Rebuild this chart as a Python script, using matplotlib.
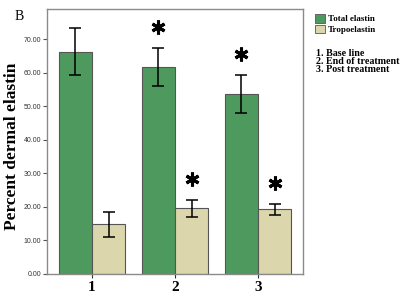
import numpy as np
import matplotlib
matplotlib.use("Agg")
import matplotlib.pyplot as plt
from matplotlib.patches import Patch

# data
groups = ["1", "2", "3"]
total_mean = [66.3, 61.7, 53.6]
total_hi = [73.3, 67.4, 59.3]
total_lo = [59.3, 56.0, 48.0]
tropo_mean = [14.8, 19.6, 19.4]
tropo_hi = [18.5, 22.2, 21.0]
tropo_lo = [11.0, 17.0, 17.7]
total_sig = [False, True, True]
tropo_sig = [False, True, True]
notes = ["1. Base line", "2. End of treatment", "3. Post treatment"]

green = "#4e9a5e"
tan = "#dcd6ac"
serif = "Liberation Serif"

fig = plt.figure(figsize=(4.15, 3.03), dpi=100)
ax = fig.add_axes([47 / 415, 29 / 303, 256 / 415, 265 / 303])

x = np.arange(1, len(groups) + 1)
w = 0.4

def draw(xs, mean, hi, lo, color, sig):
    mean = np.array(mean)
    err = [mean - np.array(lo), np.array(hi) - mean]
    ax.bar(xs, mean, w, color=color, edgecolor="#555555", linewidth=0.8, zorder=2)
    ax.errorbar(xs, mean, yerr=err, fmt="none", ecolor="black",
                elinewidth=1.1, capsize=4, capthick=1.1, zorder=3)
    for xi, h, s in zip(xs, hi, sig):
        if s:
            ax.plot(xi, h + 6.2, marker=(6, 2, 0), markersize=10,
                    mew=2.2, color="black", zorder=4)

draw(x - w / 2, total_mean, total_hi, total_lo, green, total_sig)
draw(x + w / 2, tropo_mean, tropo_hi, tropo_lo, tan, tropo_sig)

ax.set_xlim(0.46, 3.54)
ax.set_ylim(0, 79)
ax.set_yticks(np.arange(0, 71, 10))
ax.set_yticklabels([f"{v:.2f}" for v in np.arange(0, 71, 10)],
                   fontsize=5, color="#333333", family="Liberation Sans")
ax.set_xticks(x)
ax.set_xticklabels(groups, fontsize=11, fontweight="bold", family=serif)
ax.tick_params(axis="y", length=3, width=0.8, color="#555555", pad=1)
ax.tick_params(axis="x", length=3, width=0.8, color="#333333", pad=2)
for sp in ax.spines.values():
    sp.set_color("#8a8a8a")
    sp.set_linewidth(1.0)

ax.set_ylabel("Percent dermal elastin", fontsize=12.5, fontweight="bold",
              family=serif)
ax.yaxis.set_label_coords(-0.105, 0.483)
fig.text(15 / 415, 1 - 17 / 303, "B", fontsize=10, family=serif,
         ha="left", va="center")

handles = [Patch(facecolor=green, edgecolor="#555555", linewidth=0.6),
           Patch(facecolor=tan, edgecolor="#555555", linewidth=0.6)]
fig.legend(handles, ["Total elastin", "Tropoelastin"],
           loc="upper left", bbox_to_anchor=(315 / 415, 1 - 14 / 303),
           frameon=False, prop={"family": serif, "weight": "bold", "size": 6.5},
           handlelength=1.1, handleheight=1.1, handletextpad=0.3,
           labelspacing=0.15, borderpad=0, borderaxespad=0)

for i, t in enumerate(notes):
    fig.text(316 / 415, 1 - (53 + 8.2 * i) / 303, t, fontsize=7.2,
             fontweight="bold", family=serif, ha="left", va="center")

fig.savefig("out.png", dpi=100)
